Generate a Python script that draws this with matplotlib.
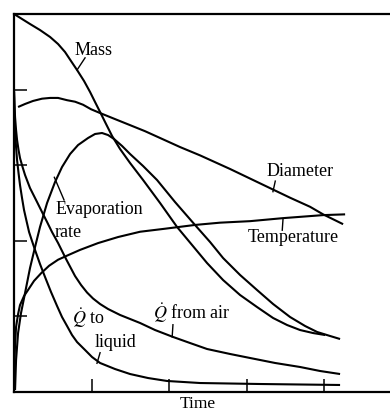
import matplotlib
matplotlib.use("Agg")
import matplotlib.pyplot as plt

# Droplet history: everything on a common, unitless scale (one tick step per unit)
mass_t = [0, 0.103, 0.206, 0.335, 0.465, 0.568, 0.658, 0.735, 0.813, 0.903,
          0.981, 1.045, 1.11, 1.187, 1.265, 1.368, 1.497, 1.665, 1.884, 2.103,
          2.297, 2.49, 2.697, 2.916, 3.135, 3.342, 3.523, 3.69, 3.858, 4.013]
mass = [5.0, 4.934, 4.868, 4.788, 4.696, 4.603, 4.497, 4.378, 4.259, 4.114,
        3.968, 3.836, 3.704, 3.545, 3.386, 3.214, 3.029, 2.804, 2.5, 2.183,
        1.944, 1.706, 1.481, 1.283, 1.124, 0.979, 0.886, 0.82, 0.78, 0.754]

diameter_t = [0.052, 0.142, 0.245, 0.361, 0.465, 0.568, 0.684, 0.787, 0.89,
              0.994, 1.11, 1.303, 1.497, 1.69, 1.884, 2.142, 2.4, 2.787, 3.174,
              3.561, 3.819, 3.987, 4.245]
diameter = [3.77, 3.81, 3.85, 3.88, 3.89, 3.89, 3.86, 3.84, 3.80,
             3.74, 3.69, 3.61, 3.53, 3.45, 3.36, 3.24, 3.13, 2.95, 2.76,
             2.57, 2.45, 2.35, 2.22]

temperature_t = [0, 0.006, 0.013, 0.026, 0.052, 0.077, 0.129, 0.181, 0.258,
                 0.348, 0.452, 0.568, 0.697, 0.852, 1.084, 1.342, 1.626, 1.948,
                 2.335, 2.658, 3.045, 3.471, 3.987, 4.271]
temperature = [0.09, 0.42, 0.62, 0.86, 1.03, 1.15, 1.27, 1.35, 1.47,
               1.57, 1.67, 1.75, 1.81, 1.88, 1.97, 2.05, 2.12, 2.16,
               2.21, 2.24, 2.26, 2.30, 2.34, 2.35]

evap_t = [0.013, 0.026, 0.052, 0.09, 0.129, 0.206, 0.271, 0.335, 0.426, 0.529,
          0.619, 0.723, 0.826, 0.955, 1.045, 1.135, 1.213, 1.29, 1.394, 1.497,
          1.665, 1.845, 2.077, 2.335, 2.529, 2.697, 2.916, 3.135, 3.342, 3.561,
          3.755, 3.91, 4.077, 4.206]
evap = [0.026, 0.423, 0.78, 1.045, 1.243, 1.64, 1.918, 2.183, 2.5, 2.778,
        2.976, 3.148, 3.267, 3.36, 3.413, 3.426, 3.399, 3.347, 3.254, 3.148,
        2.989, 2.804, 2.513, 2.209, 1.984, 1.772, 1.548, 1.349, 1.164, 0.992,
        0.873, 0.794, 0.741, 0.701]

q_liquid_t = [0, 0.006, 0.013, 0.026, 0.039, 0.058, 0.077, 0.103, 0.129, 0.161,
              0.194, 0.232, 0.271, 0.335, 0.40, 0.477, 0.555, 0.619, 0.684,
              0.748, 0.813, 0.916, 1.006, 1.11, 1.303, 1.497, 1.729, 1.974,
              2.40, 3.174, 4.206]
q_liquid = [3.968, 3.704, 3.466, 3.241, 3.069, 2.897, 2.738, 2.566, 2.407, 2.262,
            2.116, 1.997, 1.878, 1.693, 1.521, 1.323, 1.138, 0.992, 0.873,
            0.754, 0.661, 0.556, 0.463, 0.384, 0.304, 0.238, 0.185, 0.146,
            0.119, 0.106, 0.093]

q_air_t = [0, 0.006, 0.013, 0.026, 0.039, 0.058, 0.077, 0.11, 0.142, 0.206,
           0.297, 0.361, 0.426, 0.49, 0.568, 0.671, 0.787, 0.865, 0.942, 1.019,
           1.11, 1.213, 1.368, 1.497, 1.626, 1.819, 2.052, 2.271, 2.49, 2.787,
           3.045, 3.368, 3.69, 3.948, 4.206]
q_air = [3.995, 3.796, 3.638, 3.466, 3.333, 3.201, 3.095, 2.976, 2.87, 2.698,
         2.513, 2.381, 2.249, 2.116, 1.971, 1.759, 1.534, 1.415, 1.316, 1.237,
         1.164, 1.098, 1.019, 0.966, 0.913, 0.82, 0.728, 0.648, 0.569, 0.503,
         0.45, 0.384, 0.331, 0.278, 0.238]

x_ticks = [1, 2, 3, 4]
y_ticks = [1, 2, 3, 4]

plt.rcParams["font.family"] = ["Liberation Serif", "DejaVu Serif"]
plt.rcParams["mathtext.fontset"] = "stix"

fig = plt.figure(figsize=(3.9, 4.12), dpi=100)
ax = fig.add_axes([0.036, 0.0485, 0.964, 0.9175])
ax.set_xlim(0, 4.85)
ax.set_ylim(0, 5.0)

line_kw = dict(color="black", lw=1.5, clip_on=False,
               solid_capstyle="butt", solid_joinstyle="round")
for t, v in [(mass_t, mass), (diameter_t, diameter),
             (temperature_t, temperature), (evap_t, evap),
             (q_liquid_t, q_liquid), (q_air_t, q_air)]:
    ax.plot(t, v, **line_kw)

# curve labels with short leader strokes
txt_kw = dict(fontsize=13, color="black")
leader_kw = dict(color="black", lw=1.0)

ax.text(1.02, 4.52, "Mass", ha="center", va="center", **txt_kw)
ax.plot([0.916, 0.813], [4.42, 4.26], **leader_kw)

ax.text(3.69, 2.92, "Diameter", ha="center", va="center", **txt_kw)
ax.plot([3.37, 3.34], [2.79, 2.65], **leader_kw)

ax.text(3.60, 2.04, "Temperature", ha="center", va="center", **txt_kw)
ax.plot([3.47, 3.46], [2.29, 2.14], **leader_kw)

ax.text(0.53, 2.41, "Evaporation", ha="left", va="center", **txt_kw)
ax.text(0.53, 2.11, "rate", ha="left", va="center", **txt_kw)
ax.plot([0.52, 0.645], [2.84, 2.54], **leader_kw)

ax.text(0.75, 0.98, r"$\dot{Q}$ to", ha="left", va="center", **txt_kw)
ax.text(1.045, 0.65, "liquid", ha="left", va="center", **txt_kw)
ax.plot([1.11, 1.07], [0.52, 0.38], **leader_kw)

ax.text(1.79, 1.045, r"$\dot{Q}$ from air", ha="left", va="center", **txt_kw)
ax.plot([2.05, 2.04], [0.89, 0.73], **leader_kw)

ax.text(0.489, -0.041, "Time", transform=ax.transAxes, ha="center",
        va="baseline", fontsize=12.5, color="black")

ax.set_xticks(x_ticks)
ax.set_yticks(y_ticks)
ax.tick_params(direction="in", length=9.5, width=1.1, labelbottom=False,
               labelleft=False, colors="black")

for side in ("left", "bottom", "top"):
    ax.spines[side].set_linewidth(1.6)
ax.spines["right"].set_visible(False)

fig.savefig("out.png", dpi=100)
